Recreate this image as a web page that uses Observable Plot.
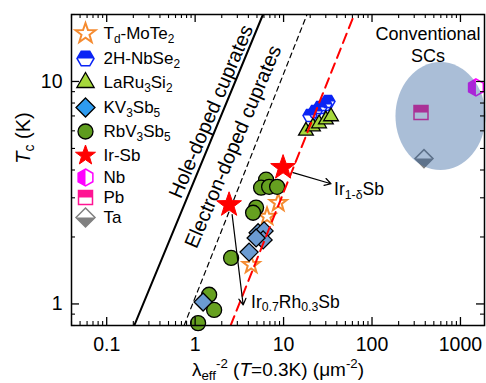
<!DOCTYPE html>
<html><head><meta charset="utf-8">
<script src="https://cdn.jsdelivr.net/npm/d3@7"></script>
<script src="https://cdn.jsdelivr.net/npm/@observablehq/plot@0.6"></script>
<style>body{margin:0;background:#fff}</style>
</head><body><div id="chart"></div>
<script>
// ---- data ----
const moTe2X = [8.7, 6.5, 4.3];
const moTe2Tc = [2.85, 2.47, 1.5];
const nbSe2X = [19.9, 22.7, 25.9, 29.4, 31.8];
const nbSe2Tc = [7.03, 7.33, 7.64, 7.88, 8.13];
const laRuX = [17.9, 21.5, 25.2, 30.1, 34.4];
const laRuTc = [6.0, 6.27, 6.47, 6.74, 6.96];
const kvX = [5.15, 6.02, 5.87, 4.89, 4.07, 1.23];
const kvTc = [2.09, 2.13, 1.94, 1.98, 1.71, 1.02];
const rbvX = [6.34, 5.57, 6.86, 8.45, 4.89, 4.52, 2.55, 1.44, 1.64, 1.08];
const rbvTc = [3.62, 3.33, 3.36, 3.36, 2.71, 2.57, 1.61, 1.1, 0.94, 0.82];
const irSbX = [9.87, 2.42];
const irSbTc = [4.1, 2.79];
const nbX = [1496], nbTc = [9.4];
const pbX = [358], pbTc = [7.25];
const taX = [387], taTc = [4.5];
const holeX = [0.205, 5.85], holeTc = [0.8, 20];
const elecX = [0.75, 18.4], elecTc = [0.8, 20];
const irFitX = [2.52, 63], irFitTc = [0.8, 20];
const ellipseCenter = [602, 6.95];
const xMajor = [0.1, 1, 10, 100, 1000];
const xTickLabels = ["0.1", "1", "10", "100", "1000"];
const yMajor = [1, 10];
const yTickLabels = ["1", "10"];
const legendLabels = ["T_{d}-MoTe_{2}", "2H-NbSe_{2}", "LaRu_{3}Si_{2}", "KV_{3}Sb_{5}", "RbV_{3}Sb_{5}", "Ir-Sb", "Nb", "Pb", "Ta"];
const arrowIr = [{x1: 12.8, y1: 3.89, x2: 34.4, y2: 3.47}];
const arrowIrRh = [{x1: 2.62, y1: 2.52, x2: 3.49, y2: 0.99}];
const labelIr = [{x: 37.2, y: 3.26, t: "Ir_{1-δ}Sb"}];
const labelIrRh = [{x: 4.29, y: 1.02, t: "Ir_{0.7}Rh_{0.3}Sb"}];
const holeLabel = [{x: 1.52, y: 7.32, t: "Hole-doped cuprates"}];
const elecLabel = [{x: 2.69, y: 5.09, t: "Electron-doped cuprates"}];
const convLabel = [{x: 430, y: 14.8, t: "Conventional\nSCs"}];

// ---- helpers ----
const zip = (xs, ys) => xs.map((x, i) => ({x, y: ys[i]}));
const poly = (pts) => ({draw(ctx, size) {
  const R = Math.sqrt(size / Math.PI);
  pts.forEach(([a, b], i) => i ? ctx.lineTo(a * R, b * R) : ctx.moveTo(a * R, b * R));
  ctx.closePath();
}});
const ang = (deg) => deg * Math.PI / 180;
const w3 = Math.sqrt(3) / 2;
const STAR = poly(d3.range(10).map(k => { const r = k % 2 ? 0.4 : 1, a = ang(-90 + 36 * k); return [r * Math.cos(a), r * Math.sin(a)]; }));
const HEXF = poly(d3.range(6).map(k => [Math.cos(ang(60 * k)), Math.sin(ang(60 * k))]));
const HEXF_TOP = poly([[1, 0], [0.5, -w3], [-0.5, -w3], [-1, 0]]);
const HEXP = poly(d3.range(6).map(k => [Math.cos(ang(-90 + 60 * k)), Math.sin(ang(-90 + 60 * k))]));
const HEXP_LEFT = poly([[0, -1], [0, 1], [-w3, 0.5], [-w3, -0.5]]);
const TRI = poly([[0, -1], [w3, 0.5], [-w3, 0.5]]);
const DIA = poly([[0, -1], [1, 0], [0, 1], [-1, 0]]);
const DIA_BOT = poly([[-1, 0], [1, 0], [0, 1]]);
const SQ = poly([[-1, -1], [1, -1], [1, 1], [-1, 1]]);
const SQ_TOP = poly([[-1, -1], [1, -1], [1, 0], [-1, 0]]);
const CIRC = "circle";

const legendStyles = [
  {shape: STAR, fill: "#fff", stroke: "#f58b30", sw: 2, r: 10.5},
  {shape: HEXF, half: HEXF_TOP, fill: "#fff", halfFill: "#0a24f5", stroke: "#0a24f5", sw: 1.5, r: 8.5},
  {shape: TRI, fill: "#a6d83c", stroke: "#000", sw: 1.3, r: 10},
  {shape: DIA, fill: "#2e9bf0", stroke: "#000", sw: 1.3, r: 9.5},
  {shape: CIRC, fill: "#5e9c1e", stroke: "#000", sw: 1.3, r: 7.5},
  {shape: STAR, fill: "#ff0000", stroke: "#ff0000", sw: 1, r: 10.5},
  {shape: HEXP, half: HEXP_LEFT, fill: "#fff", halfFill: "#ff00ff", stroke: "#ff00ff", sw: 1.5, r: 8.5},
  {shape: SQ, half: SQ_TOP, fill: "#fff", halfFill: "#ff1493", stroke: "#ff1493", sw: 1.5, r: 7},
  {shape: DIA, half: DIA_BOT, fill: "#fff", halfFill: "#808080", stroke: "#808080", sw: 1.5, r: 9.5}
];
const legendRowY = [33, 58, 82, 107, 131, 155, 177, 197, 217];

function symbolMarks(data, pos, st) {
  const base = {...pos, symbol: st.shape, r: st.r};
  if (!st.half) return [Plot.dot(data, {...base, fill: st.fill, stroke: st.stroke, strokeWidth: st.sw})];
  return [
    Plot.dot(data, {...base, fill: st.fill, stroke: "none"}),
    Plot.dot(data, {...pos, symbol: st.half, r: st.r, fill: st.halfFill, stroke: "none"}),
    Plot.dot(data, {...base, fill: "none", stroke: st.stroke, strokeWidth: st.sw})
  ];
}
const XY = {x: "x", y: "y"};
const dataStyles = [
  {...legendStyles[0], r: 9},
  {...legendStyles[1], r: 7},
  {...legendStyles[2], r: 8.5},
  {...legendStyles[3], fill: "#6b9bd2", r: 9},
  {...legendStyles[4], fill: "#66a020", r: 7.5},
  {...legendStyles[5], r: 13},
  {...legendStyles[6], r: 8.5},
  {...legendStyles[7], r: 7},
  {...legendStyles[8], r: 9}
];

const FONT = "Liberation Sans, Arial, Helvetica, sans-serif";
const W = 486, H = 383, MT = 14, MR = 2, MB = 58, ML = 71;
const FH = H - MT - MB, FW = W - ML - MR;
const xMinor = d3.scaleLog().domain([0.04, 1870]).ticks().filter(d => !xMajor.includes(d));
const yMinor = d3.scaleLog().domain([0.8, 20]).ticks().filter(d => !yMajor.includes(d));
const xLab = new Map(xMajor.map((d, i) => [d, xTickLabels[i]]));
const yLab = new Map(yMajor.map((d, i) => [d, yTickLabels[i]]));

const ellipseMark = (index, scales) => {
  const g = d3.create("svg:g");
  g.append("ellipse")
    .attr("cx", scales.x(ellipseCenter[0])).attr("cy", scales.y(ellipseCenter[1]))
    .attr("rx", 45).attr("ry", 54)
    .attr("fill", "rgb(42,92,155)").attr("fill-opacity", 0.4);
  return g.node();
};

const marks = [
  Plot.line(zip(holeX, holeTc), {...XY, stroke: "#000", strokeWidth: 2, clip: true}),
  Plot.line(zip(elecX, elecTc), {...XY, stroke: "#000", strokeWidth: 1.2, strokeDasharray: "5,4", clip: true}),
  ...symbolMarks(zip(moTe2X, moTe2Tc), XY, dataStyles[0]),
  ...symbolMarks(zip(nbSe2X, nbSe2Tc), XY, dataStyles[1]),
  ...symbolMarks(zip(laRuX, laRuTc), XY, dataStyles[2]),
  ...symbolMarks(zip(rbvX, rbvTc), XY, dataStyles[4]),
  ...symbolMarks(zip(kvX, kvTc), XY, dataStyles[3]),
  Plot.line(zip(irFitX, irFitTc), {...XY, stroke: "#ff0000", strokeWidth: 2, strokeDasharray: "10,6", clip: true}),
  ...symbolMarks(zip(irSbX, irSbTc), XY, dataStyles[5]),
  ...symbolMarks(zip(nbX, nbTc), XY, dataStyles[6]),
  ...symbolMarks(zip(pbX, pbTc), XY, dataStyles[7]),
  ...symbolMarks(zip(taX, taTc), XY, dataStyles[8]),
  ellipseMark,
  Plot.arrow(arrowIr, {x1: "x1", y1: "y1", x2: "x2", y2: "y2", stroke: "#000", strokeWidth: 1.2, headLength: 9}),
  Plot.arrow(arrowIrRh, {x1: "x1", y1: "y1", x2: "x2", y2: "y2", stroke: "#000", strokeWidth: 1.2, headLength: 9}),
  Plot.text(labelIr, {x: "x", y: "y", text: "t", textAnchor: "start", fontSize: 17.5, fill: "#000"}),
  Plot.text(labelIrRh, {x: "x", y: "y", text: "t", textAnchor: "start", fontSize: 17.5, fill: "#000"}),
  Plot.text(holeLabel, {x: "x", y: "y", text: "t", rotate: -67, fontSize: 20, fill: "#000"}),
  Plot.text(elecLabel, {x: "x", y: "y", text: "t", rotate: -67, fontSize: 20, fill: "#000"}),
  Plot.text(convLabel, {x: "x", y: "y", text: "t", fontSize: 18, lineHeight: 1.22, fill: "#000"}),
];
legendLabels.forEach((label, i) => {
  const pos = {frameAnchor: "top-left", dx: 14, dy: legendRowY[i] - MT};
  marks.push(...symbolMarks([label], pos, legendStyles[i]));
  marks.push(Plot.text([label], {frameAnchor: "top-left", dx: 32, dy: legendRowY[i] - MT, text: d => d, textAnchor: "start", lineAnchor: "middle", fontSize: 17, fill: "#000"}));
});
marks.push(
  Plot.text(["λ_{eff}^{-2} (*T*=0.3K) (μm^{-2})"], {frameAnchor: "bottom", dy: 44, text: d => d, textAnchor: "middle", lineAnchor: "middle", fontSize: 19, fill: "#000"}),
  Plot.text(["*T*_{c} (K)"], {frameAnchor: "left", dx: -48, dy: -32, rotate: -90, text: d => d, textAnchor: "middle", lineAnchor: "middle", fontSize: 20, fill: "#000"}),
  Plot.frame({stroke: "#000", strokeWidth: 1.5}),
  // inward ticks on all four sides
  Plot.tickX(xMajor, {x: d => d, insetTop: FH - 8, stroke: "#000", strokeWidth: 1.3}),
  Plot.tickX(xMinor, {x: d => d, insetTop: FH - 4, stroke: "#000", strokeWidth: 1.1}),
  Plot.tickX(xMajor, {x: d => d, insetBottom: FH - 8, stroke: "#000", strokeWidth: 1.3}),
  Plot.tickX(xMinor, {x: d => d, insetBottom: FH - 4, stroke: "#000", strokeWidth: 1.1}),
  Plot.tickY(yMajor, {y: d => d, insetRight: FW - 8, stroke: "#000", strokeWidth: 1.3}),
  Plot.tickY(yMinor, {y: d => d, insetRight: FW - 4, stroke: "#000", strokeWidth: 1.1}),
  Plot.tickY(yMajor, {y: d => d, insetLeft: FW - 8, stroke: "#000", strokeWidth: 1.3}),
  Plot.tickY(yMinor, {y: d => d, insetLeft: FW - 4, stroke: "#000", strokeWidth: 1.1}),
  // tick labels
  Plot.axisX(xMajor, {anchor: "bottom", tickSize: 0, tickPadding: 12, tickFormat: d => xLab.get(d), fontSize: 19.5, label: null}),
  Plot.axisY(yMajor, {anchor: "left", tickSize: 0, tickPadding: 9, tickFormat: d => yLab.get(d), fontSize: 19.5, label: null})
);

const chart = Plot.plot({
  width: W, height: H,
  marginTop: MT, marginRight: MR, marginBottom: MB, marginLeft: ML,
  style: {fontFamily: FONT, background: "#fff", color: "#000", overflow: "visible"},
  x: {type: "log", domain: [0.04, 1870]},
  y: {type: "log", domain: [0.8, 20]},
  marks
});
document.getElementById("chart").appendChild(chart);

// rich text: _{sub}, ^{sup}, *italic*
function richText(root) {
  root.querySelectorAll("text").forEach(t => {
    const s = t.textContent;
    if (!/_\{|\^\{|\*/.test(s)) return;
    const f = parseFloat(getComputedStyle(t).fontSize);
    while (t.firstChild) t.removeChild(t.firstChild);
    let shift = 0;
    s.split(/(_\{[^}]*\}|\^\{[^}]*\}|\*[^*]+\*)/g).forEach(part => {
      if (!part) return;
      const ts = document.createElementNS("http://www.w3.org/2000/svg", "tspan");
      let target = 0, size = null, italic = false, txt = part;
      if (part.startsWith("_{")) { target = 0.22 * f; size = 0.7 * f; txt = part.slice(2, -1); }
      else if (part.startsWith("^{")) { target = -0.4 * f; size = 0.7 * f; txt = part.slice(2, -1); }
      else if (part.length > 2 && part[0] === "*" && part[part.length - 1] === "*") { italic = true; txt = part.slice(1, -1); }
      const d = target - shift;
      if (d) ts.setAttribute("dy", d);
      shift = target;
      if (size) ts.setAttribute("font-size", size);
      if (italic) ts.setAttribute("font-style", "italic");
      ts.textContent = txt;
      t.appendChild(ts);
    });
  });
}
richText(chart);
</script>
</body></html>
